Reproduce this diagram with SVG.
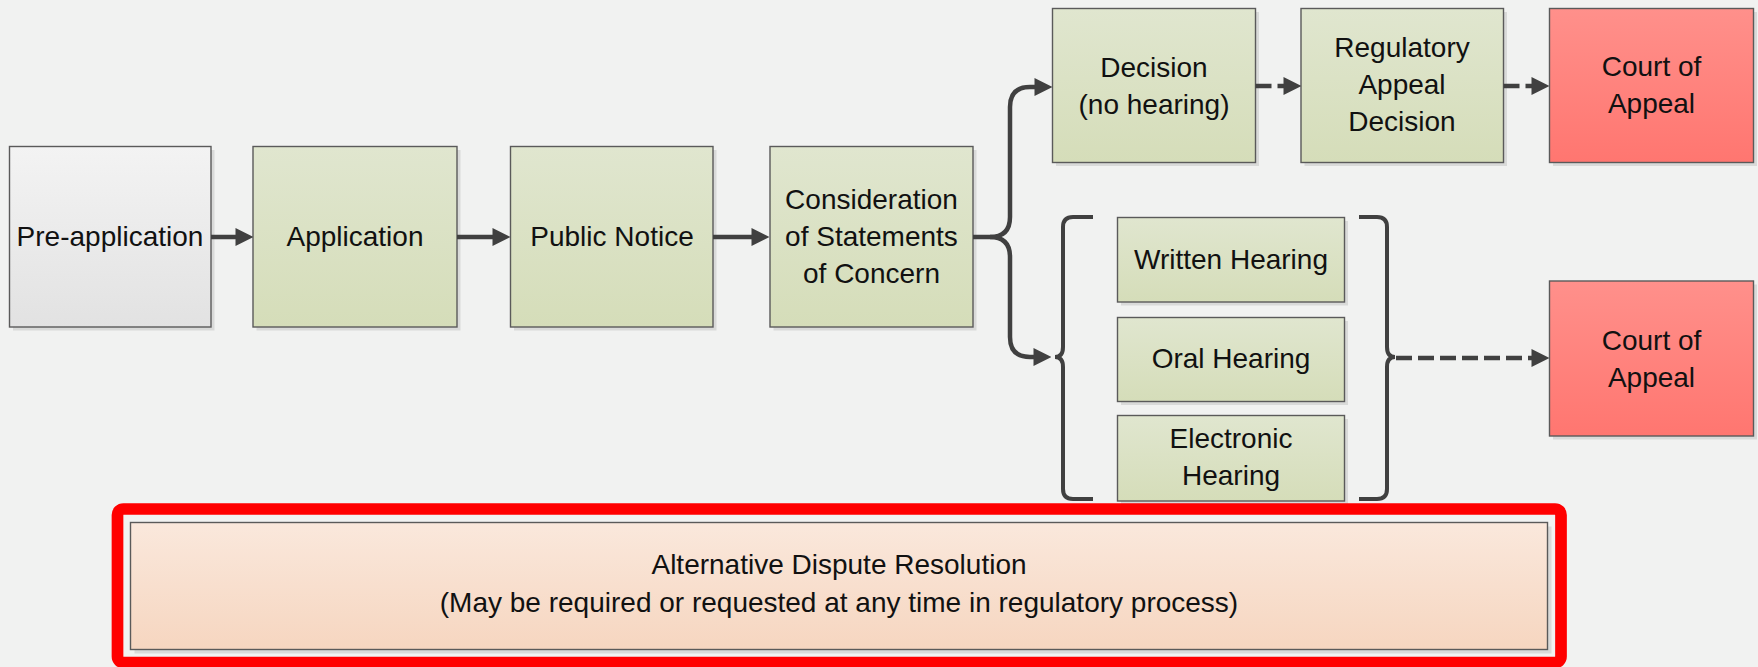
<svg xmlns="http://www.w3.org/2000/svg" width="1758" height="667" viewBox="0 0 1758 667">
<defs>
<linearGradient id="gGreen" x1="0" y1="0" x2="0" y2="1"><stop offset="0" stop-color="#e0e6cf"/><stop offset="1" stop-color="#d5ddb9"/></linearGradient>
<linearGradient id="gGray" x1="0" y1="0" x2="0" y2="1"><stop offset="0" stop-color="#f3f3f3"/><stop offset="1" stop-color="#e2e2e2"/></linearGradient>
<linearGradient id="gRed" x1="0" y1="0" x2="0" y2="1"><stop offset="0" stop-color="#ff908b"/><stop offset="1" stop-color="#ff7670"/></linearGradient>
<linearGradient id="gPeach" x1="0" y1="0" x2="0" y2="1"><stop offset="0" stop-color="#fae8dc"/><stop offset="1" stop-color="#f6d6c0"/></linearGradient>
<marker id="ah" markerUnits="userSpaceOnUse" markerWidth="18" markerHeight="18" viewBox="0 0 17 17" refX="9" refY="8.5" orient="auto"><path d="M0,0 L17,8.5 L0,17 z" fill="#404040"/></marker>
</defs>
<style>
.sh{fill:#d9dad9}
.box{stroke:#5a5a5a;stroke-width:1.4}
.g{fill:url(#gGreen)}
.gr{fill:url(#gGray)}
.r{fill:url(#gRed)}
.p{fill:url(#gPeach)}
text{font-family:"Liberation Sans",Arial,sans-serif;font-size:28px;fill:#111;text-anchor:middle}
.c{fill:none;stroke:#404040;stroke-width:4.5}
.d{stroke-dasharray:16,6}
.br{fill:none;stroke:#404040;stroke-width:4}
</style>
<rect width="1758" height="667" fill="#f1f2f1"/>

<g id="pre">
<rect class="sh" x="13" y="150" width="201.5" height="180.5"/>
<rect class="box gr" x="9.5" y="146.5" width="201.5" height="180.5"/>
<text x="110" y="246">Pre-application</text>
</g>
<g id="application">
<rect class="sh" x="256.5" y="150" width="204" height="180.5"/>
<rect class="box g" x="253" y="146.5" width="204" height="180.5"/>
<text x="355" y="246">Application</text>
</g>
<g id="publicnotice">
<rect class="sh" x="514" y="150" width="202.5" height="180.5"/>
<rect class="box g" x="510.5" y="146.5" width="202.5" height="180.5"/>
<text x="612" y="246">Public Notice</text>
</g>
<g id="consideration">
<rect class="sh" x="773.5" y="150" width="203" height="180.5"/>
<rect class="box g" x="770" y="146.5" width="203" height="180.5"/>
<text x="871.5" y="209">Consideration</text>
<text x="871.5" y="246">of Statements</text>
<text x="871.5" y="283">of Concern</text>
</g>
<g id="decision">
<rect class="sh" x="1056" y="12" width="203" height="154"/>
<rect class="box g" x="1052.5" y="8.5" width="203" height="154"/>
<text x="1154" y="77">Decision</text>
<text x="1154" y="114">(no hearing)</text>
</g>
<g id="regulatory">
<rect class="sh" x="1304.5" y="12" width="202.5" height="154"/>
<rect class="box g" x="1301" y="8.5" width="202.5" height="154"/>
<text x="1402" y="57">Regulatory</text>
<text x="1402" y="94">Appeal</text>
<text x="1402" y="131">Decision</text>
</g>
<g id="court1">
<rect class="sh" x="1553" y="12" width="204" height="154"/>
<rect class="box r" x="1549.5" y="8.5" width="204" height="154"/>
<text x="1651.5" y="76">Court of</text>
<text x="1651.5" y="113">Appeal</text>
</g>
<g id="written">
<rect class="sh" x="1121" y="221" width="227" height="84.5"/>
<rect class="box g" x="1117.5" y="217.5" width="227" height="84.5"/>
<text x="1231" y="269">Written Hearing</text>
</g>
<g id="oral">
<rect class="sh" x="1121" y="321" width="227" height="84"/>
<rect class="box g" x="1117.5" y="317.5" width="227" height="84"/>
<text x="1231" y="368">Oral Hearing</text>
</g>
<g id="electronic">
<rect class="sh" x="1121" y="419" width="227" height="85.5"/>
<rect class="box g" x="1117.5" y="415.5" width="227" height="85.5"/>
<text x="1231" y="448">Electronic</text>
<text x="1231" y="485">Hearing</text>
</g>
<g id="court2">
<rect class="sh" x="1553" y="284.5" width="204" height="155"/>
<rect class="box r" x="1549.5" y="281" width="204" height="155"/>
<text x="1651.5" y="350">Court of</text>
<text x="1651.5" y="387">Appeal</text>
</g>
<g id="adr">
<rect x="117.5" y="509" width="1443.5" height="153.5" rx="6" fill="none" stroke="#ff0000" stroke-width="11.7"/>
<rect class="sh" x="134.5" y="526.5" width="1417" height="127"/>
<rect class="box p" x="130.5" y="522.5" width="1417" height="127"/>
<text x="839" y="574">Alternative Dispute Resolution</text>
<text x="839" y="612">(May be required or requested at any time in regulatory process)</text>
</g>

<g id="connectors">
<path class="c" d="M211,237 H245" marker-end="url(#ah)"/>
<path class="c" d="M457,237 H502" marker-end="url(#ah)"/>
<path class="c" d="M713,237 H761" marker-end="url(#ah)"/>
<path class="c" d="M973,237 H990 Q1010,237 1010,217 V107 Q1010,87 1030,87 H1044" marker-end="url(#ah)"/>
<path class="c" d="M990,237 Q1010,237 1010,257 V337 Q1010,357 1030,357 H1043" marker-end="url(#ah)"/>
<path class="c d" d="M1255.5,86 H1293" marker-end="url(#ah)"/>
<path class="c d" d="M1503.5,86 H1541" marker-end="url(#ah)"/>
<path class="c d" d="M1396,358 H1541" marker-end="url(#ah)"/>
<path class="br" d="M1093,217 H1073 Q1063,217 1063,227 V347 Q1063,357 1055,357 Q1063,357 1063,367 V489 Q1063,499 1073,499 H1093"/>
<path class="br" d="M1359,217 H1377 Q1387,217 1387,227 V347 Q1387,357 1395,357 Q1387,357 1387,367 V489 Q1387,499 1377,499 H1359"/>
</g>
</svg>
